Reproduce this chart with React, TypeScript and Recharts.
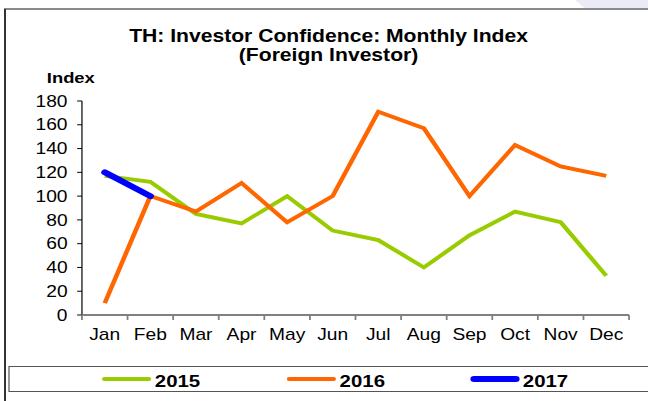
import React from 'react'
import { LineChart, Line, XAxis, YAxis } from 'recharts'

const months = ['Jan', 'Feb', 'Mar', 'Apr', 'May', 'Jun', 'Jul', 'Aug', 'Sep', 'Oct', 'Nov', 'Dec']
const inv2015 = [117, 112, 85, 77, 100, 71, 63, 40, 67, 87, 78, 33]
const inv2016 = [10, 100, 87, 111, 78, 100, 171, 157, 100, 143, 125, 117]
const inv2017: (number | null)[] = [120, 100, null, null, null, null, null, null, null, null, null, null]
const yTicks = [0, 20, 40, 60, 80, 100, 120, 140, 160, 180]

const series = [
  { key: 'y2015', name: '2015', color: '#99CC00', width: 3.8 },
  { key: 'y2016', name: '2016', color: '#FF6600', width: 3.8 },
  { key: 'y2017', name: '2017', color: '#0000FF', width: 5.8 },
]

const rows = months.map((m, i) => ({
  x: i + 0.5,
  month: m,
  y2015: inv2015[i],
  y2016: inv2016[i],
  y2017: inv2017[i],
}))

const boundaryTicks = months.map((_, i) => i).concat(months.length)
const centerTicks = months.map((_, i) => i + 0.5)

const FONT = '"Liberation Sans", Arial, Helvetica, sans-serif'
// the reference looks stretched sideways, so draw narrower and scale up
const SX = 1.2

// legend positions (unscaled px)
const legendPos = [85, 239, 391.7]

export default function App() {
  return (
    <div style={{ position: 'fixed', left: 0, top: 0, width: 648, height: 401, overflow: 'hidden', background: '#fff', fontFamily: FONT }}>
      <div style={{ position: 'absolute', left: 575, top: 0, width: 80, height: 8, background: '#ebebf5', clipPath: 'polygon(0 0, 100% 0, 100% 100%, 12% 100%)' }} />
      <div style={{ position: 'absolute', left: 4, top: 8, width: 650, height: 2, background: '#8a8a8a' }} />
      <div style={{ position: 'absolute', left: 4, top: 9, width: 1.5, height: 400, background: '#333' }} />

      <div style={{ position: 'absolute', left: 0, top: 0, width: 540, height: 401, transform: `scaleX(${SX})`, transformOrigin: '0 0' }}>
        <div style={{ position: 'absolute', left: 0, top: 28, width: 547.6, textAlign: 'center', fontSize: 17.6, fontWeight: 'bold', lineHeight: 1, whiteSpace: 'nowrap' }}>
          TH: Investor Confidence: Monthly Index
        </div>
        <div style={{ position: 'absolute', left: 0, top: 47.4, width: 547.6, textAlign: 'center', fontSize: 17.6, fontWeight: 'bold', lineHeight: 1, whiteSpace: 'nowrap' }}>
          (Foreign Investor)
        </div>
        <div style={{ position: 'absolute', left: 29, top: 70, width: 60, textAlign: 'center', fontSize: 15.3, fontWeight: 'bold', lineHeight: 1 }}>
          Index
        </div>

        <div style={{ position: 'absolute', left: 0, top: 0 }}>
          <LineChart width={540} height={401} data={rows} margin={{ top: 101, right: 15.8, bottom: 50, left: 28.3 }}>
            <YAxis
              domain={[0, 180]}
              ticks={yTicks}
              interval={0}
              width={40}
              tickSize={4}
              tickMargin={8}
              axisLine={{ stroke: '#000', strokeWidth: 1 }}
              tickLine={{ stroke: '#000' }}
              tick={{ fill: '#000', fontSize: 16, fontFamily: FONT }}
            />
            <XAxis
              type="number"
              dataKey="x"
              domain={[0, 12]}
              ticks={boundaryTicks}
              interval={0}
              tickFormatter={() => ''}
              height={6}
              tickSize={5}
              axisLine={{ stroke: '#808080', strokeWidth: 2 }}
              tickLine={{ stroke: '#808080', strokeWidth: 1.5 }}
            />
            <XAxis
              xAxisId="lbl"
              type="number"
              dataKey="x"
              domain={[0, 12]}
              ticks={centerTicks}
              interval={0}
              tickFormatter={(v: number) => months[Math.floor(v)]}
              height={30}
              tickSize={0}
              tickMargin={8}
              axisLine={false}
              tickLine={false}
              tick={{ fill: '#000', fontSize: 16, fontFamily: FONT }}
            />
            {series.map(s => (
              <Line
                key={s.key}
                dataKey={s.key}
                name={s.name}
                stroke={s.color}
                strokeWidth={s.width}
                strokeLinecap={s.key === 'y2017' ? 'round' : 'butt'}
                dot={false}
                activeDot={false}
                isAnimationActive={false}
              />
            ))}
          </LineChart>
        </div>

        <div style={{ position: 'absolute', left: 6.7, top: 366, width: 600, height: 26, boxSizing: 'border-box', border: '1.5px solid #555' }} />
        {series.map((s, i) => (
          <React.Fragment key={s.key}>
            <div style={{ position: 'absolute', left: legendPos[i], top: s.width > 4 ? 376 : 377, width: 41, height: s.width > 4 ? 6 : 4, borderRadius: 3, background: s.color }} />
            <div style={{ position: 'absolute', left: legendPos[i] + 44, top: 372.6, fontSize: 17, fontWeight: 'bold', lineHeight: 1 }}>
              {s.name}
            </div>
          </React.Fragment>
        ))}
      </div>
    </div>
  )
}
